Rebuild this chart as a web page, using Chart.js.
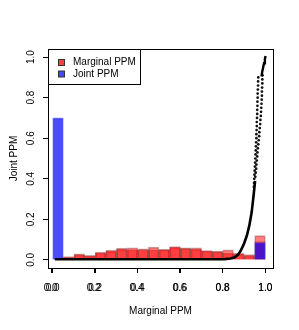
<!DOCTYPE html>
<html>
<head>
<meta charset="utf-8">
<script src="https://cdn.jsdelivr.net/npm/chart.js@4.4.0/dist/chart.umd.min.js"></script>
<style>
  html, body { margin: 0; padding: 0; background: #fff; }
</style>
</head>
<body>
<canvas id="chart" width="299" height="330"></canvas>
<script>
// histogram bins, width 0.05
var binCenters = [0.025, 0.075, 0.125, 0.175, 0.225, 0.275, 0.325, 0.375, 0.425, 0.475,
                  0.525, 0.575, 0.625, 0.675, 0.725, 0.775, 0.825, 0.875, 0.925, 0.975];
var marginalHigh = [null, 0.016, 0.030, 0.022, 0.038, 0.048, 0.058, 0.059, 0.055, 0.063,
                    0.052, 0.066, 0.059, 0.059, 0.046, 0.043, 0.049, 0.033, 0.026, 0.120];
var marginalLow = [null, 0.012, 0.025, 0.018, 0.034, 0.042, 0.052, 0.050, 0.050, 0.050,
                   0.049, 0.062, 0.056, 0.052, 0.044, 0.040, 0.033, 0.028, 0.020, 0.090];
var jointHeights = [0.700, null, null, null, null, null, null, null, null, null,
                    null, null, null, null, null, null, null, null, null, 0.085];

var tickValues = [0, 0.2, 0.4, 0.6, 0.8, 1.0];

// marginal vs joint PPM points
var curveLowX = [0.010, 0.100, 0.200, 0.300, 0.400, 0.500, 0.600, 0.700, 0.780, 0.810,
                 0.835, 0.857, 0.872, 0.884, 0.898, 0.913, 0.925, 0.936, 0.944, 0.952];
var curveLowY = [0.003, 0.003, 0.003, 0.003, 0.003, 0.003, 0.003, 0.003, 0.003, 0.004,
                 0.007, 0.013, 0.026, 0.045, 0.075, 0.119, 0.170, 0.236, 0.310, 0.390];
var curveTopX = [0.982, 0.986, 0.990, 0.994, 0.998, 1.001];
var curveTopY = [0.905, 0.930, 0.950, 0.970, 0.990, 1.005];
var dotsLeftX = [0.946, 0.947, 0.948, 0.949, 0.950, 0.951, 0.952, 0.953, 0.954, 0.955,
                 0.956, 0.957, 0.958, 0.958, 0.959, 0.960, 0.960, 0.961, 0.962, 0.962,
                 0.963, 0.963, 0.964, 0.964, 0.965, 0.966, 0.966, 0.967];
var dotsLeftY = [0.36, 0.38, 0.40, 0.42, 0.44, 0.46, 0.48, 0.50, 0.52, 0.54,
                 0.56, 0.58, 0.60, 0.62, 0.64, 0.66, 0.68, 0.70, 0.72, 0.74,
                 0.76, 0.78, 0.80, 0.82, 0.84, 0.86, 0.88, 0.90];
var dotsRightX = [0.953, 0.955, 0.957, 0.958, 0.960, 0.962, 0.963, 0.965, 0.967, 0.969,
                  0.971, 0.972, 0.974, 0.976, 0.977, 0.979, 0.980, 0.981, 0.982, 0.983,
                  0.984, 0.984, 0.985, 0.986, 0.986, 0.987];
var dotsRightY = [0.41, 0.43, 0.45, 0.47, 0.49, 0.51, 0.53, 0.55, 0.57, 0.59,
                  0.61, 0.63, 0.65, 0.67, 0.69, 0.71, 0.73, 0.75, 0.77, 0.79,
                  0.81, 0.83, 0.85, 0.87, 0.89, 0.91];

var fontFamily = "'Liberation Sans', Arial, Helvetica, sans-serif";

function toPoints(xs, ys) {
    var pts = [];
    for (var i = 0; i < xs.length; i++) {
        pts.push({ x: xs[i], y: ys[i] });
    }
    return pts;
}

/**
 * Draws the R style box, the second set of x ticks and the legend
 */
var rStyle = {
    id: 'rStyle',
    afterDraw: function(chart) {
        var ctx = chart.ctx;
        var a = chart.chartArea;
        ctx.save();

        ctx.strokeStyle = '#000';
        ctx.lineWidth = 1;
        ctx.strokeRect(Math.round(a.left) + 0.5, Math.round(a.top) + 0.5,
                       Math.round(a.right - a.left), Math.round(a.bottom - a.top));

        // overlaid axis from the second plot
        var x2 = chart.scales.x2;
        var items = chart.scales.x.getLabelItems();
        ctx.font = '10px ' + fontFamily;
        ctx.fillStyle = '#000';
        ctx.textAlign = 'center';
        tickValues.forEach(function(v, i) {
            var px = Math.round(x2.getPixelForValue(v)) + 0.5;
            ctx.beginPath();
            ctx.moveTo(px, a.bottom);
            ctx.lineTo(px, a.bottom + 5);
            ctx.stroke();
            if (items[i]) {
                ctx.textBaseline = items[i].options.textBaseline;
                ctx.fillText(v.toFixed(1), x2.getPixelForValue(v),
                             items[i].options.translation[1] + (items[i].textOffset || 0));
            }
        });

        // legend
        var lx = Math.round(a.left) + 0.5, ly = Math.round(a.top) + 0.5;
        ctx.fillStyle = '#fff';
        ctx.fillRect(lx, ly, 92, 35);
        ctx.strokeRect(lx, ly, 92, 35);
        var entries = [
            { text: 'Marginal PPM', color: 'rgba(255,0,0,0.75)', y: 62.5 },
            { text: 'Joint PPM', color: 'rgba(0,0,255,0.72)', y: 74 }
        ];
        entries.forEach(function(e) {
            ctx.fillStyle = e.color;
            ctx.fillRect(58.5, e.y - 3, 6, 6);
            ctx.strokeStyle = '#333';
            ctx.strokeRect(58.5, e.y - 3, 6, 6);
            ctx.fillStyle = '#000';
            ctx.textAlign = 'left';
            ctx.textBaseline = 'middle';
            ctx.fillText(e.text, 73, e.y);
        });

        ctx.restore();
    }
};

var tickFont = { family: fontFamily, size: 10 };

new Chart(document.getElementById('chart').getContext('2d'), {
    type: 'bar',
    data: {
        datasets: [
            {
                type: 'line',
                data: toPoints(curveLowX, curveLowY),
                borderColor: '#000',
                borderWidth: 2.6,
                pointRadius: 0,
                fill: false,
                tension: 0,
                order: 0
            },
            {
                type: 'line',
                data: toPoints(curveTopX, curveTopY),
                borderColor: '#000',
                borderWidth: 2.4,
                pointRadius: 0,
                fill: false,
                tension: 0,
                order: 0
            },
            {
                type: 'scatter',
                data: toPoints(dotsLeftX, dotsLeftY).concat(toPoints(dotsRightX, dotsRightY)),
                backgroundColor: '#111',
                borderWidth: 0,
                pointRadius: 1.35,
                order: 0
            },
            {
                label: 'Joint PPM',
                data: toPoints(binCenters, jointHeights),
                backgroundColor: 'rgba(0,0,255,0.7)',
                borderColor: 'rgba(70,70,255,0.6)',
                borderWidth: 1,
                grouped: false,
                barPercentage: 1,
                categoryPercentage: 1,
                order: 1
            },
            {
                label: 'Marginal PPM',
                data: toPoints(binCenters, marginalHigh),
                backgroundColor: 'rgba(255,0,0,0.5)',
                borderColor: 'rgba(90,0,0,0.35)',
                borderWidth: 1,
                grouped: false,
                barPercentage: 1,
                categoryPercentage: 1,
                order: 2
            },
            {
                label: 'Marginal PPM',
                data: toPoints(binCenters, marginalLow),
                backgroundColor: 'rgba(255,0,0,0.5)',
                borderColor: 'rgba(90,0,0,0.35)',
                borderWidth: 1,
                grouped: false,
                barPercentage: 1,
                categoryPercentage: 1,
                order: 2
            }
        ]
    },
    options: {
        responsive: false,
        animation: false,
        devicePixelRatio: 1,
        layout: { padding: { top: 49, right: 26, left: 0, bottom: 0 } },
        plugins: {
            legend: { display: false },
            tooltip: { enabled: false }
        },
        scales: {
            x: {
                type: 'linear',
                position: 'bottom',
                offset: false,
                min: -0.0221,
                max: 1.0362,
                afterFit: function(scale) { scale.height = 62; },
                border: { display: false },
                grid: { offset: false, drawOnChartArea: false, drawTicks: true, tickLength: 5, tickColor: '#000' },
                ticks: {
                    stepSize: 0.2,
                    includeBounds: false,
                    autoSkip: false,
                    maxRotation: 0,
                    padding: 9,
                    color: '#000',
                    font: tickFont,
                    callback: function(v) { return v.toFixed(1); }
                },
                title: {
                    display: true,
                    text: 'Marginal PPM',
                    color: '#000',
                    font: tickFont,
                    padding: { top: 0, bottom: 13 }
                }
            },
            x2: {
                type: 'linear',
                position: 'bottom',
                display: false,
                offset: false,
                grid: { offset: false },
                min: -0.0126,
                max: 1.0359
            },
            y: {
                type: 'linear',
                min: -0.04,
                max: 1.04,
                afterFit: function(scale) { scale.width = 48; },
                border: { display: false },
                grid: { drawOnChartArea: false, drawTicks: true, tickLength: 5, tickColor: '#000' },
                ticks: {
                    stepSize: 0.2,
                    includeBounds: false,
                    minRotation: 90,
                    maxRotation: 90,
                    crossAlign: 'center',
                    padding: 5,
                    color: '#000',
                    font: tickFont,
                    callback: function(v) { return v.toFixed(1); }
                },
                title: {
                    display: true,
                    text: 'Joint PPM',
                    color: '#000',
                    font: tickFont,
                    padding: { top: 8, bottom: 0 }
                }
            }
        }
    },
    plugins: [rStyle]
});
</script>
</body>
</html>
